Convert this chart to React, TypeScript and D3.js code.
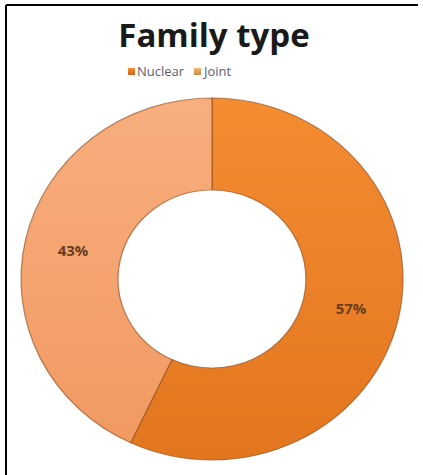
import React from "react";
import * as d3 from "d3";

const categories = ["Nuclear", "Joint"];
const values = [57, 43];
const labels = ["57%", "43%"];
const title = "Family type";

const W = 423;
const H = 475;

export default function App() {
  const cx = 212;
  const cy = 279;
  const rOuter = 181;
  const rInner = 89;
  const sx = 191 / 181;

  const pie = d3.pie<number>().sort(null).value((d) => d)(values);
  const arc = d3.arc<d3.PieArcDatum<number>>().innerRadius(rInner).outerRadius(rOuter);

  const colorTop = ["#F48C32", "#F8AE7E"];
  const colorBot = ["#E2761E", "#F19A62"];
  const legendColors = ["#E07A28", "#D8A060"];

  const legendItems = [
    { x: 128, tx: 137 },
    { x: 194, tx: 204 },
  ];

  return (
    <svg
      width={W}
      height={H}
      style={{ position: "fixed", left: 0, top: 0, background: "#fff" }}
    >
      <defs>
        {categories.map((c, i) => (
          <linearGradient key={c} id={`g${i}`} x1="0" y1="0" x2="0" y2="1">
            <stop offset="0%" stopColor={colorTop[i]} />
            <stop offset="100%" stopColor={colorBot[i]} />
          </linearGradient>
        ))}
        {categories.map((c, i) => (
          <linearGradient key={c + "l"} id={`lg${i}`} x1="0" y1="0" x2="0" y2="1">
            <stop offset="0%" stopColor={d3.color(legendColors[i])!.brighter(0.4).toString()} />
            <stop offset="100%" stopColor={d3.color(legendColors[i])!.darker(0.4).toString()} />
          </linearGradient>
        ))}
      </defs>
      <line x1={6} y1={5} x2={418} y2={5} stroke="#000" strokeWidth={2} />
      <line x1={6} y1={5} x2={6} y2={H} stroke="#000" strokeWidth={2} />

      <text
        x={214}
        y={47}
        textAnchor="middle"
        fontFamily="'Open Sans', sans-serif"
        fontWeight={700}
        fontSize={33}
        fill="#1a1a1a"
      >
        {title}
      </text>

      {categories.map((c, i) => (
        <g key={c}>
          <rect x={legendItems[i].x} y={68} width={7} height={7} fill={`url(#lg${i})`} />
          <text
            x={legendItems[i].tx}
            y={76}
            fontFamily="'Open Sans', sans-serif"
            fontSize={13}
            fill="#5a6070"
          >
            {c}
          </text>
        </g>
      ))}

      <g transform={`translate(${cx},${cy}) scale(${sx},1)`}>
        {pie.map((d, i) => (
          <path
            key={categories[i]}
            d={arc(d) || ""}
            fill={`url(#g${i})`}
            stroke="#8a4a1c"
            strokeOpacity={0.6}
            strokeWidth={1.2}
          />
        ))}
      </g>
      {pie.map((d, i) => {
        const [x, y] = arc.centroid(d);
        return (
          <text
            key={labels[i]}
            x={cx + x * sx}
            y={cy + y}
            textAnchor="middle"
            dominantBaseline="central"
            fontFamily="'Open Sans', sans-serif"
            fontWeight={700}
            fontSize={15}
            fill="#6a3e1e"
          >
            {labels[i]}
          </text>
        );
      })}
    </svg>
  );
}
